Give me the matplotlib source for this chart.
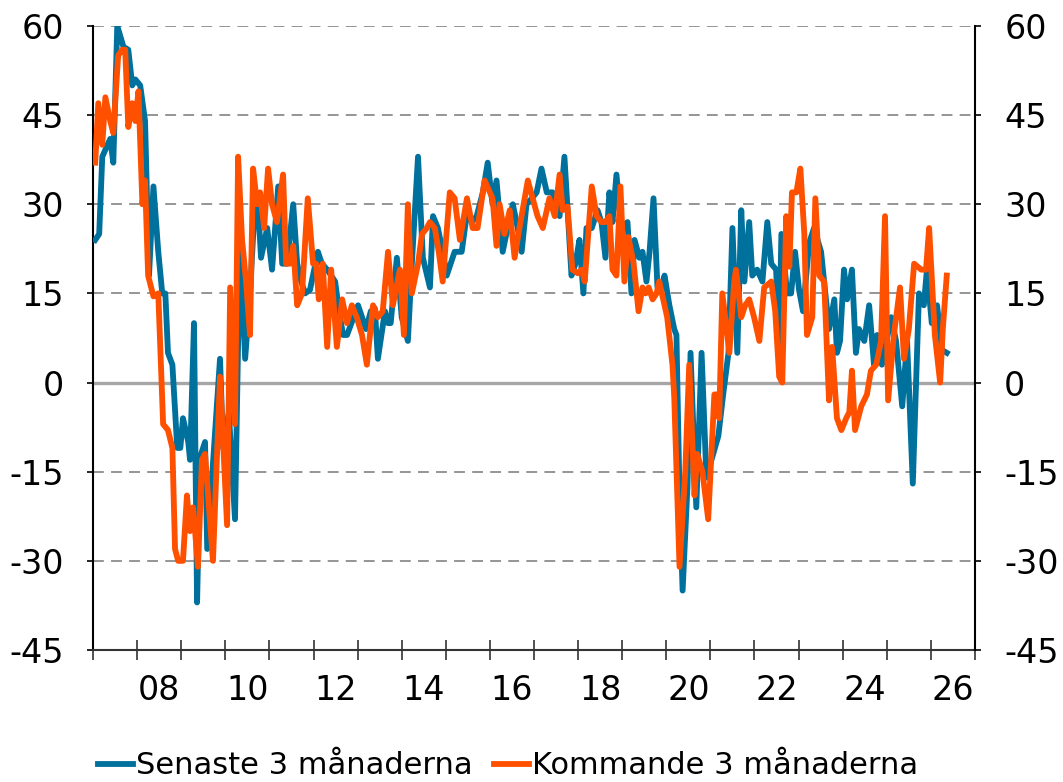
import matplotlib
matplotlib.use('Agg')
import matplotlib.pyplot as plt
import numpy as np

plt.rcParams['font.family'] = ['DejaVu Sans']

# Senaste 3 månaderna (nettotal), tid i decimalår
senaste_t = [2007.05, 2007.14, 2007.21, 2007.39, 2007.46, 2007.55, 2007.69, 2007.80, 2007.89, 2007.96,
             2008.07, 2008.18, 2008.27, 2008.37, 2008.48, 2008.57, 2008.64, 2008.70, 2008.80, 2008.91,
             2008.98, 2009.04, 2009.16, 2009.20, 2009.29, 2009.36, 2009.43, 2009.54, 2009.59, 2009.88,
             2009.95, 2010.08, 2010.22, 2010.33, 2010.45, 2010.56, 2010.67, 2010.74, 2010.81, 2010.95,
             2011.06, 2011.20, 2011.29, 2011.40, 2011.54, 2011.63, 2011.72, 2011.81, 2011.92, 2012.10,
             2012.19, 2012.31, 2012.49, 2012.58, 2012.67, 2012.76, 2012.83, 2013.01, 2013.10, 2013.19,
             2013.30, 2013.39, 2013.46, 2013.62, 2013.69, 2013.75, 2013.89, 2014.00, 2014.14, 2014.23,
             2014.37, 2014.48, 2014.64, 2014.71, 2014.82, 2014.93, 2015.02, 2015.20, 2015.36, 2015.48,
             2015.59, 2015.70, 2015.84, 2015.95, 2016.06, 2016.15, 2016.29, 2016.40, 2016.52, 2016.63,
             2016.72, 2016.83, 2016.95, 2017.06, 2017.17, 2017.29, 2017.42, 2017.58, 2017.69, 2017.85,
             2017.94, 2018.03, 2018.12, 2018.19, 2018.31, 2018.44, 2018.53, 2018.62, 2018.71, 2018.78,
             2018.87, 2018.98, 2019.12, 2019.21, 2019.28, 2019.39, 2019.46, 2019.55, 2019.62, 2019.71,
             2019.80, 2019.89, 2019.96, 2020.07, 2020.18, 2020.23, 2020.30, 2020.37, 2020.48, 2020.55,
             2020.68, 2020.80, 2020.91, 2021.18, 2021.29, 2021.41, 2021.50, 2021.61, 2021.70, 2021.77,
             2021.88, 2021.95, 2022.06, 2022.18, 2022.29, 2022.38, 2022.49, 2022.56, 2022.61, 2022.74,
             2022.83, 2022.92, 2023.01, 2023.10, 2023.24, 2023.35, 2023.51, 2023.58, 2023.69, 2023.81,
             2023.87, 2023.94, 2024.03, 2024.10, 2024.21, 2024.30, 2024.37, 2024.49, 2024.60, 2024.71,
             2024.78, 2024.89, 2025.10, 2025.21, 2025.35, 2025.46, 2025.59, 2025.73, 2025.84, 2025.91,
             2026.02, 2026.14, 2026.25, 2026.36]
senaste_v = [24, 25, 38, 41, 37, 60, 56.5, 56, 50, 51,
             50, 44, 18, 33, 22, 15, 15, 5, 3, -11,
             -11, -6, -10, -13, 10, -37, -12.5, -10, -28, 4,
             -11, -5, -23, 23.5, 4, 15, 30, 30, 21, 26,
             19, 33, 20, 20, 30, 20, 17, 15, 15.6, 22,
             20, 19, 17, 12, 8, 8, 9.4, 13, 11, 9,
             12, 12.5, 4, 12, 10, 10, 21, 11, 7, 20,
             38, 21, 16, 28, 26, 22, 18, 22, 22, 28.5,
             27, 28, 32, 37, 30, 34, 22, 26, 30, 26,
             22, 30, 31, 32, 36, 32, 32, 28, 38, 18,
             20, 24, 15, 26, 26, 29, 27, 21, 32, 27,
             35, 26, 27, 15, 24, 21, 22, 17, 22, 31,
             16, 16, 18, 13, 9, 8, -19, -35, -17.5, 5,
             -21, 5, -16, -9, -2, 5, 26, 5, 29, 17,
             27, 18, 19, 17, 27, 20, 19, 6.6, 25, 15,
             15, 22, 15.6, 12, 23.5, 26, 22, 17, 9, 14,
             5, 7, 19, 14, 19, 5, 9, 7, 13, 3,
             8, 3, 11, 7, -4, 7, -17, 15, 13, 19,
             10, 13, 5.5, 5]

# Kommande 3 månaderna (nettotal)
kommande_t = [2007.05, 2007.12, 2007.21, 2007.28, 2007.39, 2007.46, 2007.57, 2007.66, 2007.73, 2007.80,
              2007.89, 2007.96, 2008.03, 2008.12, 2008.18, 2008.25, 2008.37, 2008.48, 2008.59, 2008.70,
              2008.80, 2008.86, 2008.93, 2009.04, 2009.13, 2009.20, 2009.27, 2009.38, 2009.47, 2009.54,
              2009.72, 2009.88, 2010.04, 2010.11, 2010.22, 2010.29, 2010.38, 2010.47, 2010.56, 2010.63,
              2010.72, 2010.79, 2010.88, 2010.97, 2011.06, 2011.17, 2011.31, 2011.38, 2011.47, 2011.54,
              2011.63, 2011.74, 2011.87, 2011.99, 2012.06, 2012.12, 2012.21, 2012.31, 2012.40, 2012.53,
              2012.65, 2012.76, 2012.87, 2012.98, 2013.10, 2013.21, 2013.35, 2013.46, 2013.57, 2013.69,
              2013.80, 2013.96, 2014.05, 2014.14, 2014.23, 2014.37, 2014.46, 2014.57, 2014.64, 2014.75,
              2014.84, 2014.93, 2015.09, 2015.20, 2015.32, 2015.48, 2015.61, 2015.72, 2015.88, 2016.00,
              2016.06, 2016.15, 2016.22, 2016.33, 2016.45, 2016.56, 2016.67, 2016.86, 2016.97, 2017.08,
              2017.20, 2017.35, 2017.47, 2017.58, 2017.65, 2017.76, 2017.87, 2017.99, 2018.08, 2018.15,
              2018.31, 2018.42, 2018.53, 2018.62, 2018.71, 2018.78, 2018.87, 2018.96, 2019.05, 2019.14,
              2019.26, 2019.37, 2019.46, 2019.53, 2019.60, 2019.69, 2019.78, 2019.84, 2019.93, 2020.02,
              2020.14, 2020.18, 2020.30, 2020.43, 2020.52, 2020.64, 2020.70, 2020.82, 2020.95, 2021.09,
              2021.16, 2021.20, 2021.27, 2021.43, 2021.54, 2021.58, 2021.70, 2021.79, 2021.88, 2021.99,
              2022.11, 2022.22, 2022.38, 2022.47, 2022.56, 2022.63, 2022.72, 2022.79, 2022.85, 2022.95,
              2023.04, 2023.13, 2023.19, 2023.31, 2023.38, 2023.47, 2023.58, 2023.69, 2023.76, 2023.87,
              2023.97, 2024.08, 2024.15, 2024.21, 2024.28, 2024.42, 2024.55, 2024.64, 2024.76, 2024.87,
              2024.96, 2025.03, 2025.16, 2025.30, 2025.39, 2025.50, 2025.62, 2025.78, 2025.89, 2025.96,
              2026.09, 2026.21, 2026.27, 2026.36]
kommande_v = [37, 47, 40, 48, 44, 42, 55, 56, 56, 43,
              47, 44, 49, 30, 34, 18, 14.5, 15, -7, -8,
              -11, -28, -30, -30, -19, -25, -21, -31, -13, -12,
              -30, 1, -24, 16, -7, 38, 24, 17, 8, 36,
              30, 32, 26, 36, 30, 27, 35, 20, 20, 23,
              13, 15, 31, 20, 20, 14, 20, 6, 19, 6,
              14, 10, 13, 11, 8, 3, 13, 11, 12, 22,
              13, 19, 8, 30, 15, 20, 25, 26, 27, 26,
              22, 17, 32, 31, 24, 31, 26, 26, 34, 32,
              31, 23, 30, 25, 29, 21, 26, 34, 31, 28,
              26, 31, 28, 35, 29, 29.6, 19, 18.4, 19, 17,
              33, 28, 27, 27, 28, 19, 18, 33, 17, 24.5,
              20, 12, 16, 15, 16, 14, 15, 17, 14, 11,
              3, -2.4, -31, -15, 3, -19, -12, -15, -23, -2,
              -2, -6, 15, 5, 17, 19, 11, 13, 14, 11,
              7, 16, 17, 12, 1, 0, 28, 19.5, 32, 32,
              36, 25, 8, 11, 31, 18, 17, -3, 6, -6,
              -8, -6, -5, 2, -8, -4, -2, 2, 3, 7,
              28, -3, 8, 16, 4, 9, 20, 19, 19, 26,
              8, 0, 9, 18]

y_ticks = [-45, -30, -15, 0, 15, 30, 45, 60]
year_ticks = list(range(2007, 2028))
year_labels = ['08', '10', '12', '14', '16', '18', '20', '22', '24', '26']

blue = '#00709C'
orange = '#FF5000'
fs = 24

fig = plt.figure(figsize=(10.63, 7.82), dpi=100)
ax = fig.add_axes([0.0875, 0.1688, 0.8297, 0.798])

for y in y_ticks:
    if y == 0:
        ax.axhline(y, color='#A6A6A6', lw=2.4, zorder=1)
    else:
        ax.axhline(y, color='#8C8C8C', lw=1.3, ls=(0, (6, 4)), zorder=1)

ax.plot(senaste_t, senaste_v, color=blue, lw=4.2, solid_joinstyle='round',
        label='Senaste 3 månaderna', zorder=3)
ax.plot(kommande_t, kommande_v, color=orange, lw=4.2, solid_joinstyle='round',
        label='Kommande 3 månaderna', zorder=4)

ax.set_xlim(2007, 2027)
ax.set_ylim(-45, 60)
ax.set_yticks(y_ticks)
ax.set_yticklabels([str(v) for v in y_ticks])

# årsstreck, etikett mitt i varannat år
ax.set_xticks(year_ticks)
ax.set_xticklabels([])
ax.set_xticks([int('20' + s) + 0.5 for s in year_labels], minor=True)
ax.set_xticklabels(year_labels, minor=True)
ax.tick_params(axis='x', which='major', direction='inout', length=14, width=1.2, color='#333333')
ax.tick_params(axis='x', which='minor', length=0, labelsize=fs, pad=17)
ax.tick_params(axis='y', direction='out', length=4, width=1.2, labelsize=fs, pad=17)

ax2 = ax.twinx()
ax2.set_ylim(ax.get_ylim())
ax2.set_yticks(y_ticks)
ax2.set_yticklabels([str(v) for v in y_ticks])
ax2.tick_params(axis='y', direction='out', length=4, width=1.2, labelsize=fs, pad=17)

for a in (ax, ax2):
    a.spines['top'].set_visible(False)
    for s in ('left', 'right'):
        a.spines[s].set_linewidth(1.5)
    a.spines['bottom'].set_color('#333333')
    a.spines['bottom'].set_linewidth(1.5)
ax.spines['right'].set_visible(False)
ax2.spines['left'].set_visible(False)
ax2.spines['bottom'].set_visible(False)

fig.legend(loc='lower center', bbox_to_anchor=(0.478, -0.033), ncol=2, frameon=False,
           fontsize=22, handlelength=1.15, handletextpad=0.1, columnspacing=0.7)

fig.savefig('out.png', dpi=100)
